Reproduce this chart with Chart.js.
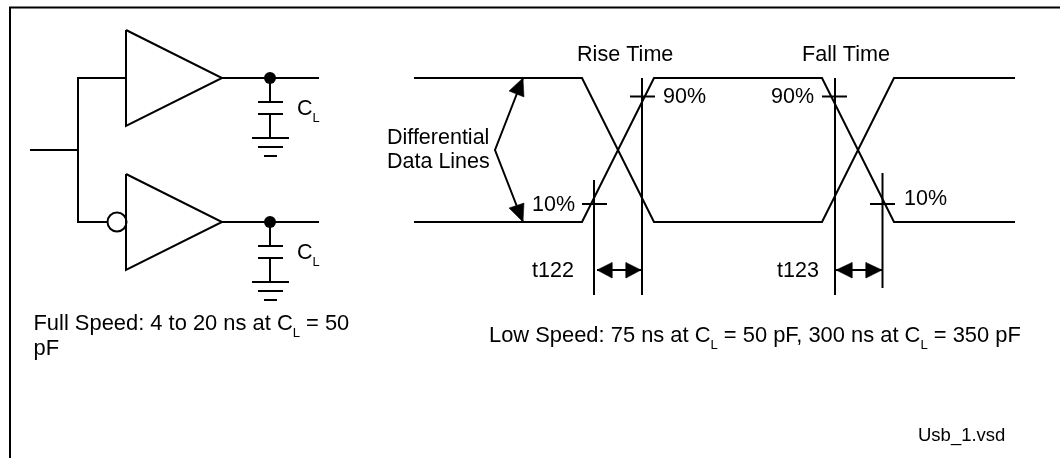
<!DOCTYPE html>
<html><head><meta charset="utf-8">
<script src="https://cdn.jsdelivr.net/npm/chart.js@4"></script>
<style>html,body{margin:0;padding:0;background:#fff}canvas{display:block}</style>
</head><body><canvas id="c" width="1060" height="458"></canvas>
<script>
// Diagram geometry (x, y in picture units)
const frame = [[10,458],[10,7.5],[1060,7.5]];
const driverTop = [[126,30],[126,126],[222,78],[126,30]];
const driverBottom = [[126,174],[126,270],[222,222],[126,174]];
const inputWire = [[30,150],[78,150]];
const splitWire = [[126,78],[78,78],[78,222],[107,222]];
const outputTop = [[222,78],[319,78]];
const outputBottom = [[222,222],[319,222]];
const capTop = [[[270,78],[270,102]],[[258,102],[283,102]],[[258,114],[283,114]],[[270,114],[270,138]],[[252,138],[289,138]],[[258,147],[283,147]],[[264,156],[277,156]]];
const capBottom = [[[270,222],[270,246]],[[258,246],[283,246]],[[258,258],[283,258]],[[270,258],[270,282]],[[252,282],[289,282]],[[258,291],[283,291]],[[264,300],[277,300]]];
const junctions = [[270,78],[270,222]];
const inverter = [[117,222]];
const traceA = [[414,78],[582,78],[654,222],[822,222],[894,78],[1015,78]];
const traceB = [[414,222],[582,222],[654,78],[822,78],[894,222],[1015,222]];
const guides = [[[594,180],[594,295]],[[642,78],[642,295]],[[835,78],[835,295]],[[882.5,173],[882.5,288]]];
const ticks = [[[630,96.5],[655,96.5]],[[582,204],[607,204]],[[822,96.5],[847,96.5]],[[870,204],[895,204]]];
const leader = [[523,78],[495,150],[523,222]];
const dims = [[[597,270],[641,270]],[[836,270],[882,270]]];
const heads = [
  [[523,78],[509,91],[524,97]],
  [[523,222],[509,208],[524,203]],
  [[597,270],[612,262.5],[612,278]],
  [[641,270],[626,262.5],[626,278]],
  [[836,270],[852,262.5],[852,278]],
  [[882,270],[866,262.5],[866,278]]
];
// Text
const labelText = [
  ["C","_L"],["C","_L"],
  ["Full Speed: 4 to 20 ns at C","_L"," = 50"],["pF"],
  ["Rise Time"],["Fall Time"],["90%"],["90%"],["10%"],["10%"],
  ["Differential"],["Data Lines"],["t122"],["t123"],
  ["Low Speed: 75 ns at C","_L"," = 50 pF, 300 ns at C","_L"," = 350 pF"],
  ["Usb_1.vsd"]
];
const labelX = [297,297,33.5,33.5,577,802,663,771,532,904,387,387,532,777,489,918];
const labelY = [115,259,330,355,61,61,103,103,211,205,144,168,277,277,342,441];
const labelSize = [21.5,21.5,21.9,21.9,21.6,21.6,21.5,21.5,21.5,21.5,21.5,21.5,21.5,21.5,21.9,18.5];

const toPts = a => a.map(p => ({x:p[0],y:p[1]}));
const LW = 2, INK = '#000';
const stroke = a => ({data:toPts(a),showLine:true,borderColor:INK,borderWidth:LW,pointRadius:0,fill:false,tension:0,borderJoinStyle:'miter',borderCapStyle:'butt',clip:false});
const filled = a => ({data:toPts([...a,a[0]]),showLine:true,borderColor:INK,borderWidth:0.5,backgroundColor:INK,pointRadius:0,fill:'shape',tension:0,clip:false});

const datasets = [
  stroke(frame),
  stroke(driverTop),stroke(driverBottom),stroke(inputWire),stroke(splitWire),
  stroke(outputTop),stroke(outputBottom),
  ...capTop.map(stroke),...capBottom.map(stroke),
  stroke(traceA),stroke(traceB),
  ...guides.map(stroke),...ticks.map(stroke),stroke(leader),...dims.map(stroke),
  ...heads.map(filled),
  {data:toPts(junctions),showLine:false,pointRadius:6,pointBackgroundColor:INK,pointBorderColor:INK,pointBorderWidth:0,clip:false},
  {data:toPts(inverter),showLine:false,pointRadius:9.5,pointBackgroundColor:'#fff',pointBorderColor:INK,pointBorderWidth:LW,clip:false}
];

const textPlugin = {
  id:'diagramText',
  afterDatasetsDraw(chart){
    const {ctx,scales:{x,y}} = chart;
    ctx.save();
    ctx.fillStyle = '#000';
    ctx.textBaseline = 'alphabetic';
    labelText.forEach((runs,i)=>{
      let px = x.getPixelForValue(labelX[i]);
      const py = y.getPixelForValue(labelY[i]);
      const size = labelSize[i];
      runs.forEach(r=>{
        const sub = r.startsWith('_');
        const t = sub ? r.slice(1) : r;
        ctx.font = (sub ? size*0.6 : size)+'px "Liberation Sans"';
        ctx.fillText(t,px,sub ? py+7 : py);
        px += ctx.measureText(t).width;
      });
    });
    ctx.restore();
  }
};

new Chart(document.getElementById('c'),{
  type:'scatter',
  data:{datasets},
  plugins:[textPlugin],
  options:{
    responsive:false,animation:false,devicePixelRatio:1,
    layout:{padding:0,autoPadding:false},
    plugins:{legend:{display:false},tooltip:{enabled:false}},
    events:[],
    scales:{
      x:{type:'linear',min:0,max:1060,display:false},
      y:{type:'linear',min:0,max:458,reverse:true,display:false}
    }
  }
});
</script></body></html>
